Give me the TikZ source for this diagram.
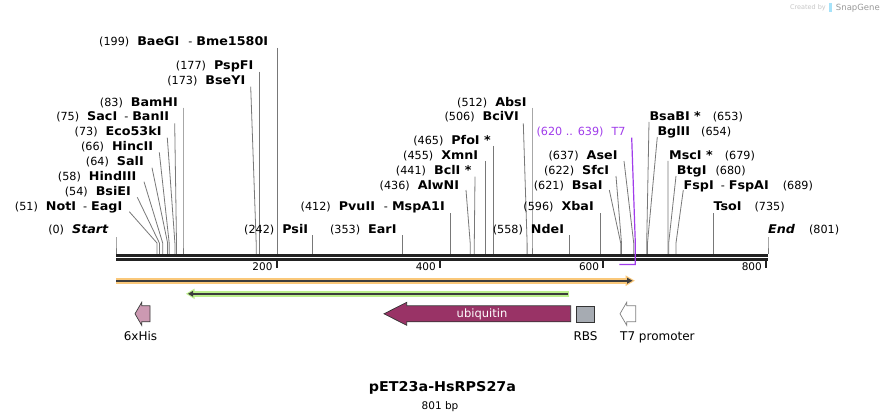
\documentclass[tikz,border=0pt]{standalone}
\usepackage{fontspec}
\setmainfont[BoldFeatures={FakeStretch=1.06},BoldItalicFeatures={FakeStretch=1.06}]{DejaVu Sans}
\definecolor{sitegray}{RGB}{120,120,120}
\definecolor{rulerdark}{RGB}{34,34,34}
\definecolor{t7col}{RGB}{160,60,235}
\definecolor{orangeglow}{RGB}{250,200,122}
\definecolor{greenglow}{RGB}{188,240,140}
\definecolor{featdark}{RGB}{60,60,60}
\definecolor{hispink}{RGB}{204,153,178}
\definecolor{ubiq}{RGB}{153,51,102}
\definecolor{rbsgray}{RGB}{166,171,178}
\newcommand\enzname[1]{{\fontsize{12}{14}\selectfont\bfseries #1}}
\tikzset{
  lab/.style={inner sep=0pt, font=\fontsize{11.2}{13}\selectfont, text=black},
  siteline/.style={draw=sitegray, line width=0.8pt},
  t7line/.style={draw=t7col, line width=1.2pt},
  rulerline/.style={draw=rulerdark, line width=2.6pt},
  tickline/.style={draw=rulerdark, line width=2pt},
  ticklab/.style={inner sep=0pt, font=\fontsize{10.5}{12}\selectfont, anchor=base east},
  featlab/.style={inner sep=0pt, font=\fontsize{12}{14}\selectfont, anchor=base},
  featoutline/.style={draw=featdark, line width=0.7pt},
}
\newcommand\siteL[7]{%
  \node[lab, anchor=base east] (#1) at (#3,#4) {#2};
  \coordinate (#1-t) at (#5,#6);
  \coordinate (#1-k) at (#7,243);
  \coordinate (#1-s) at (#7,254);
  \draw[siteline] (#1-t) -- (#1-k) -- (#1-s);
}
\newcommand\siteR[7]{%
  \node[lab, anchor=base west] (#1) at (#3,#4) {#2};
  \coordinate (#1-t) at (#5,#6);
  \coordinate (#1-k) at (#7,243);
  \coordinate (#1-s) at (#7,254);
  \draw[siteline] (#1-t) -- (#1-k) -- (#1-s);
}
\begin{document}
\begin{tikzpicture}[x=1pt,y=-1pt]
\useasboundingbox[fill=white] (0,0) rectangle (884,417);

% watermark
\node[inner sep=0pt, anchor=base east, font=\fontsize{6.5}{8}\selectfont, text=black!22] (wm1) at (826,10) {Created by};
\fill[cyan!35] (829,3) rectangle (832,12);
\node[inner sep=0pt, anchor=base east, font=\fontsize{8.5}{10}\selectfont, text=black!40] (wm2) at (880,10.5) {SnapGene};

% left-side labels
\siteL{start}{(0)\hspace{8pt}\enzname{\itshape Start}}{108.5}{233.6}{116}{237}{116}
\siteL{notI}{(51)\hspace{8pt}\enzname{NotI}\hspace{7pt}-\hspace{4pt}\enzname{EagI}}{122.5}{211}{129.3}{211.7}{157.0}
\siteL{bsiEI}{(54)\hspace{8pt}\enzname{BsiEI}}{131}{196}{137.3}{197.3}{159.4}
\siteL{hindIII}{(58)\hspace{8pt}\enzname{HindIII}}{136.5}{181}{144}{181.7}{162.7}
\siteL{salI}{(64)\hspace{8pt}\enzname{SalI}}{144}{166}{152}{167.7}{167.6}
\siteL{hincII}{(66)\hspace{8pt}\enzname{HincII}}{153.3}{151}{159.3}{152.3}{169.2}
\siteL{eco53kI}{(73)\hspace{8pt}\enzname{Eco53kI}}{161.7}{136}{167.3}{137.7}{174.9}
\siteL{sacI}{(75)\hspace{8pt}\enzname{SacI}\hspace{7pt}-\hspace{4pt}\enzname{BanII}}{169.3}{121}{174.7}{123.3}{176.5}
\siteL{bamHI}{(83)\hspace{8pt}\enzname{BamHI}}{178}{106.5}{183}{107.7}{183}
\siteL{bseYI}{(173)\hspace{8pt}\enzname{BseYI}}{245.5}{84.5}{250.7}{86.7}{256.2}
\siteL{pspFI}{(177)\hspace{8pt}\enzname{PspFI}}{253.5}{69.3}{259.5}{71.7}{259.5}
\siteL{baeGI}{(199)\hspace{8pt}\enzname{BaeGI}\hspace{9pt}-\hspace{4pt}\enzname{Bme1580I}}{268.3}{46}{277.4}{48}{277.4}

% middle labels
\siteL{psiI}{(242)\hspace{8pt}\enzname{PsiI}}{308.3}{233.6}{312.4}{235}{312.4}
\siteL{earI}{(353)\hspace{8pt}\enzname{EarI}}{396.7}{233.6}{402.7}{235}{402.7}
\siteL{pvuII}{(412)\hspace{8pt}\enzname{PvuII}\hspace{9pt}-\hspace{4pt}\enzname{MspA1I}}{445}{211}{450.7}{213}{450.7}
\siteL{alwNI}{(436)\hspace{8pt}\enzname{AlwNI}}{459.3}{189.3}{466}{190}{470.2}
\siteL{bclI}{(441)\hspace{8pt}\enzname{BclI *}}{471.7}{174.3}{475}{176.7}{474.3}
\siteL{xmnI}{(455)\hspace{8pt}\enzname{XmnI}}{478.3}{159.3}{485.6}{161}{485.6}
\siteL{pfoI}{(465)\hspace{8pt}\enzname{PfoI *}}{491}{144.3}{493.8}{146}{493.8}
\siteL{bciVI}{(506)\hspace{8pt}\enzname{BciVI}}{519}{121}{523.3}{123.3}{527.1}
\siteL{absI}{(512)\hspace{8pt}\enzname{AbsI}}{526.7}{106.5}{532}{108}{532}
\siteL{ndeI}{(558)\hspace{8pt}\enzname{NdeI}}{564.3}{233.6}{569.4}{235}{569.4}
\siteL{xbaI}{(596)\hspace{8pt}\enzname{XbaI}}{594}{211}{600.3}{213}{600.3}
\siteL{bsaI}{(621)\hspace{8pt}\enzname{BsaI}}{602.7}{189.3}{609.3}{190}{620.7}
\siteL{sfcI}{(622)\hspace{8pt}\enzname{SfcI}}{609.3}{174.3}{616}{176}{621.5}
\siteL{aseI}{(637)\hspace{8pt}\enzname{AseI}}{617.7}{159.3}{624}{161}{633.7}

% right labels
\siteR{bsaBI}{\enzname{BsaBI *}\hspace{12pt}(653)}{649.3}{120.3}{649}{122}{646.7}
\siteR{bglII}{\enzname{BglII}\hspace{11pt}(654)}{657.3}{136}{657.3}{137}{647.5}
\siteR{mscI}{\enzname{MscI *}\hspace{12pt}(679)}{669}{159.3}{668}{161}{667.9}
\siteR{btgI}{\enzname{BtgI}\hspace{9pt}(680)}{676.7}{174.3}{676}{176}{668.7}
\siteR{fspI}{\enzname{FspI}\hspace{7pt}-\hspace{4pt}\enzname{FspAI}\hspace{14pt}(689)}{683.5}{189.3}{683.3}{190}{676}
\siteR{tsoI}{\enzname{TsoI}\hspace{13pt}(735)}{713.3}{211}{713.4}{213}{713.4}
\siteR{endl}{\enzname{\itshape End}\hspace{14pt}(801)}{768}{233.6}{768}{237}{768}

% ruler
\coordinate (rA) at (116,255.3); \coordinate (rB) at (768,255.3);
\coordinate (rC) at (116,259.3); \coordinate (rD) at (768,259.3);
\draw[rulerline] (rA) -- (rB);
\draw[rulerline] (rC) -- (rD);
\foreach \tx/\tl in {276.7/200, 440/400, 603.3/600, 766/800}{
  \draw[tickline] (\tx,259) -- (\tx,267.5);
  \node[ticklab] (tick\tl) at (\tx-4,270.5) {\tl};
}

% T7 feature label and bracket
\node[lab, text=t7col, anchor=base east] (t7lab) at (625.7,136) {(620 .. 639)\hspace{8pt}T7};
\coordinate (t7t) at (631.7,137.7);
\coordinate (t7k) at (635.3,243);
\coordinate (t7s) at (635.3,264.5);
\coordinate (t7b) at (619.4,264.5);
\draw[t7line] (t7t) -- (t7k) -- (t7s) -- (t7b);

% orange arrow (forward)
\coordinate (oA) at (116,280.7); \coordinate (oB) at (627,280.7);
\draw[orangeglow, line width=6pt] (oA) -- (oB);
\fill[orangeglow] (625.5,275.3) -- (634.8,280.7) -- (625.5,286.1) -- cycle;
\draw[featdark, line width=1.6pt] (oA) -- (628,280.7);
\fill[featdark] (627,277.6) -- (632.5,280.7) -- (627,283.8) -- cycle;

% green arrow (reverse)
\coordinate (gA) at (569.3,293.8); \coordinate (gB) at (193,293.8);
\draw[greenglow, line width=5.7pt] (gA) -- (gB);
\fill[greenglow] (194.5,288.6) -- (186,293.8) -- (194.5,299) -- cycle;
\draw[featdark, line width=1.6pt] (567.8,293.8) -- (192,293.8);
\fill[featdark] (193.2,290.8) -- (188,293.8) -- (193.2,296.8) -- cycle;

% 6xHis
\draw[featoutline, fill=hispink] (135,313.8) -- (141.7,302.3) -- (141.7,305.8) -- (150,305.8) -- (150,321.8) -- (141.7,321.8) -- (141.7,325.3) -- cycle;
\node[featlab] (his) at (140.5,340.2) {6xHis};

% ubiquitin
\draw[featoutline, draw=black!80, fill=ubiq] (384,313.8) -- (406.7,302.3) -- (406.7,305.8) -- (570.7,305.8) -- (570.7,321.8) -- (406.7,321.8) -- (406.7,325.3) -- cycle;
\node[inner sep=0pt, font=\fontsize{11.5}{13}\selectfont, text=white, anchor=base] (ubq) at (482,317.8) {ubiquitin};

% RBS
\draw[featoutline, draw=black!80, fill=rbsgray] (576.7,306) rectangle (594.3,322);
\node[featlab] (rbs) at (585.5,340.2) {RBS};

% T7 promoter
\draw[draw=black!50, line width=0.7pt, fill=white] (620,313.8) -- (626.7,302.3) -- (626.7,305.8) -- (635.7,305.8) -- (635.7,321.8) -- (626.7,321.8) -- (626.7,325.3) -- cycle;
\node[featlab, anchor=base west] (t7p) at (620,340.2) {T7 promoter};

% title
\node[inner sep=0pt, font=\fontsize{13.5}{16}\selectfont\bfseries, anchor=base] (title) at (442.5,391.5) {pET23a-HsRPS27a};
\node[inner sep=0pt, font=\fontsize{10.5}{12}\selectfont, anchor=base] (size) at (440,409) {801 bp};
\end{tikzpicture}
\end{document}
